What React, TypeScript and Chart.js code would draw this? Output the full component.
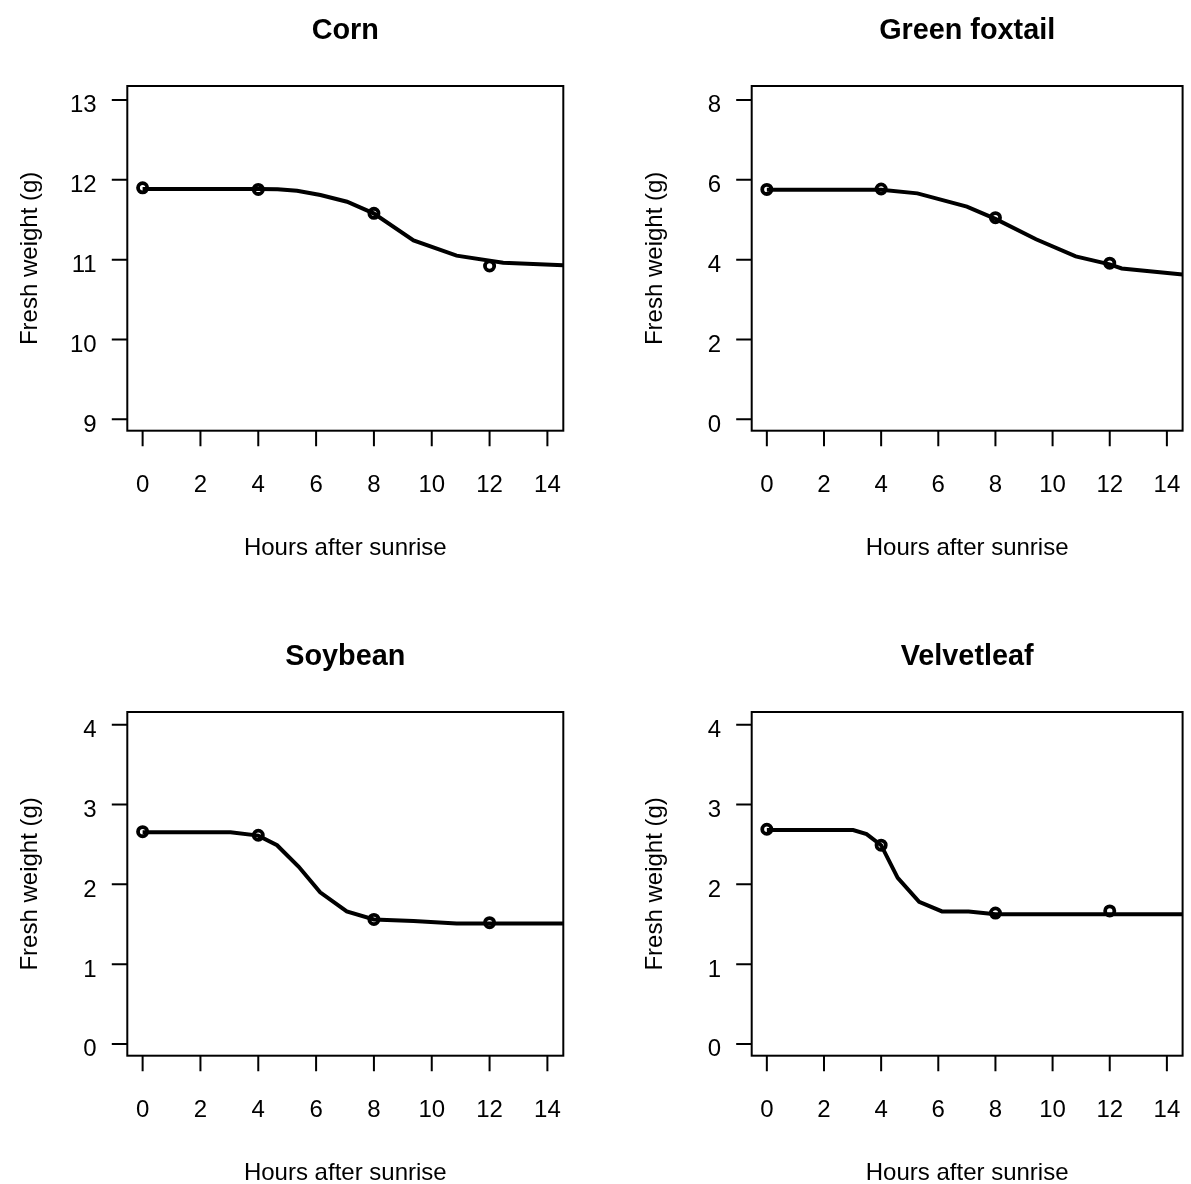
import React, { useEffect, useRef } from "react";
import { Chart, registerables } from "chart.js";

Chart.register(...registerables);

// ---------------- data ----------------
const xTickValues = [0, 2, 4, 6, 8, 10, 12, 14];
const observedHours = [0, 4, 8, 12];
const xAxisTitle = "Hours after sunrise";
const yAxisTitle = "Fresh weight (g)";

const cornTitle = "Corn";
const cornObserved = [11.9, 11.88, 11.58, 10.92];
const cornFitHours = [0, 4, 4.67, 5.34, 6.15, 7.07, 7.99, 9.37, 10.86, 12.47, 14.55];
const cornFitWeight = [11.885, 11.885, 11.883, 11.862, 11.81, 11.725, 11.58, 11.24, 11.05, 10.96, 10.93];
const cornYTicks = [9, 10, 11, 12, 13];

const foxtailTitle = "Green foxtail";
const foxtailObserved = [5.76, 5.77, 5.05, 3.91];
const foxtailFitHours = [0, 4, 5.27, 7.0, 8.0, 9.42, 10.81, 12.0, 12.42, 14.55];
const foxtailFitWeight = [5.75, 5.75, 5.66, 5.33, 5.02, 4.51, 4.08, 3.88, 3.78, 3.63];
const foxtailYTicks = [0, 2, 4, 6, 8];

const soybeanTitle = "Soybean";
const soybeanObserved = [2.66, 2.615, 1.56, 1.52];
const soybeanFitHours = [0, 3.04, 4.0, 4.65, 5.4, 6.14, 7.06, 8.0, 9.37, 10.86, 14.55];
const soybeanFitWeight = [2.653, 2.653, 2.61, 2.49, 2.22, 1.9, 1.66, 1.56, 1.54, 1.51, 1.51];
const soybeanYTicks = [0, 1, 2, 3, 4];

const velvetleafTitle = "Velvetleaf";
const velvetleafObserved = [2.69, 2.49, 1.64, 1.667];
const velvetleafFitHours = [0, 3.02, 3.49, 4.0, 4.58, 5.33, 6.13, 7.06, 8.0, 14.55];
const velvetleafFitWeight = [2.68, 2.68, 2.63, 2.49, 2.08, 1.78, 1.66, 1.66, 1.625, 1.625];
const velvetleafYTicks = [0, 1, 2, 3, 4];

// ---------------- layout / style ----------------
const FONT = '"Liberation Sans", Arial, Helvetica, sans-serif';
const X_MIN = -0.53;
const X_MAX = 14.55;

const rAxesPlugin = {
  id: "rAxes",
  afterDraw(chart: any, _args: any, opts: any) {
    const { ctx, chartArea: a, scales } = chart;
    const xs = scales.x;
    const ys = scales.y;
    ctx.save();
    ctx.strokeStyle = "#000";
    ctx.fillStyle = "#000";
    ctx.lineWidth = 2;
    ctx.strokeRect(a.left, a.top, a.right - a.left, a.bottom - a.top);
    ctx.beginPath();
    for (const v of opts.xTicks) {
      const px = xs.getPixelForValue(v);
      ctx.moveTo(px, a.bottom);
      ctx.lineTo(px, a.bottom + 15.5);
    }
    for (const v of opts.yTicks) {
      const py = ys.getPixelForValue(v);
      ctx.moveTo(a.left, py);
      ctx.lineTo(a.left - 15.5, py);
    }
    ctx.stroke();

    ctx.font = `24px ${FONT}`;
    ctx.textBaseline = "alphabetic";
    ctx.textAlign = "center";
    for (const v of opts.xTicks) {
      ctx.fillText(String(v), xs.getPixelForValue(v), a.bottom + 61.5);
    }
    ctx.textAlign = "right";
    for (const v of opts.yTicks) {
      ctx.fillText(String(v), a.left - 30.6, ys.getPixelForValue(v) + 12.5);
    }
    const cx = (a.left + a.right) / 2;
    const cy = (a.top + a.bottom) / 2;
    ctx.textAlign = "center";
    ctx.fillText(opts.xTitle, cx, a.bottom + 124.3);
    ctx.save();
    ctx.translate(a.left - 90, cy);
    ctx.rotate(-Math.PI / 2);
    ctx.fillText(opts.yTitle, 0, 0);
    ctx.restore();

    ctx.font = `bold 28.8px ${FONT}`;
    ctx.fillText(opts.title, cx, a.top - 47);
    ctx.restore();
  },
};

type PanelProps = {
  title: string;
  fitHours: number[];
  fitWeight: number[];
  observed: number[];
  yTicks: number[];
  yMin: number;
  yMax: number;
  left: number;
  top: number;
  width: number;
  height: number;
  padding: { left: number; right: number; top: number; bottom: number };
};

function Panel(p: PanelProps) {
  const ref = useRef<HTMLCanvasElement | null>(null);
  useEffect(() => {
    if (!ref.current) return;
    const fitPts = p.fitHours.map((x, i) => ({ x, y: p.fitWeight[i] }));
    const obsPts = observedHours.map((x, i) => ({ x, y: p.observed[i] }));
    const chart = new Chart(ref.current, {
      type: "scatter",
      data: {
        datasets: [
          {
            data: obsPts,
            showLine: false,
            pointRadius: 4.6,
            pointHoverRadius: 4.6,
            pointBorderWidth: 3.8,
            borderWidth: 3.8,
            borderColor: "#000",
            pointBorderColor: "#000",
            backgroundColor: "rgba(0,0,0,0)",
            pointBackgroundColor: "rgba(0,0,0,0)",
          },
          {
            data: fitPts,
            showLine: true,
            borderColor: "#000",
            borderWidth: 4,
            pointRadius: 0,
            pointHoverRadius: 0,
            tension: 0,
            fill: false,
          },
        ],
      } as any,
      options: {
        responsive: false,
        animation: false,
        events: [],
        layout: { padding: p.padding },
        plugins: {
          legend: { display: false },
          tooltip: { enabled: false },
          title: { display: false },
          rAxes: {
            title: p.title,
            xTicks: xTickValues,
            yTicks: p.yTicks,
            xTitle: xAxisTitle,
            yTitle: yAxisTitle,
          },
        } as any,
        scales: {
          x: { type: "linear", min: X_MIN, max: X_MAX, display: false },
          y: { type: "linear", min: p.yMin, max: p.yMax, display: false },
        },
      },
      plugins: [rAxesPlugin],
    });
    return () => chart.destroy();
  }, []);
  return (
    <canvas
      ref={ref}
      width={p.width}
      height={p.height}
      style={{
        position: "absolute",
        left: p.left,
        top: p.top,
        width: p.width,
        height: p.height,
      }}
    />
  );
}

export default function App() {
  return (
    <div
      style={{
        position: "absolute",
        left: 0,
        top: 0,
        width: 1191,
        height: 1184,
        background: "#fff",
        overflow: "hidden",
      }}
    >
      <Panel
        title={cornTitle}
        fitHours={cornFitHours}
        fitWeight={cornFitWeight}
        observed={cornObserved}
        yTicks={cornYTicks}
        yMin={8.857}
        yMax={13.175}
        left={0}
        top={0}
        width={595}
        height={592}
        padding={{ left: 127.3, right: 31.7, top: 86, bottom: 161.3 }}
      />
      <Panel
        title={foxtailTitle}
        fitHours={foxtailFitHours}
        fitWeight={foxtailFitWeight}
        observed={foxtailObserved}
        yTicks={foxtailYTicks}
        yMin={-0.286}
        yMax={8.35}
        left={595}
        top={0}
        width={596}
        height={592}
        padding={{ left: 156.7, right: 2.7, top: 86, bottom: 161.3 }}
      />
      <Panel
        title={soybeanTitle}
        fitHours={soybeanFitHours}
        fitWeight={soybeanFitWeight}
        observed={soybeanObserved}
        yTicks={soybeanYTicks}
        yMin={-0.147}
        yMax={4.159}
        left={0}
        top={592}
        width={595}
        height={592}
        padding={{ left: 127.3, right: 31.7, top: 120, bottom: 128.3 }}
      />
      <Panel
        title={velvetleafTitle}
        fitHours={velvetleafFitHours}
        fitWeight={velvetleafFitWeight}
        observed={velvetleafObserved}
        yTicks={velvetleafYTicks}
        yMin={-0.147}
        yMax={4.159}
        left={595}
        top={592}
        width={596}
        height={592}
        padding={{ left: 156.7, right: 2.7, top: 120, bottom: 128.3 }}
      />
    </div>
  );
}
